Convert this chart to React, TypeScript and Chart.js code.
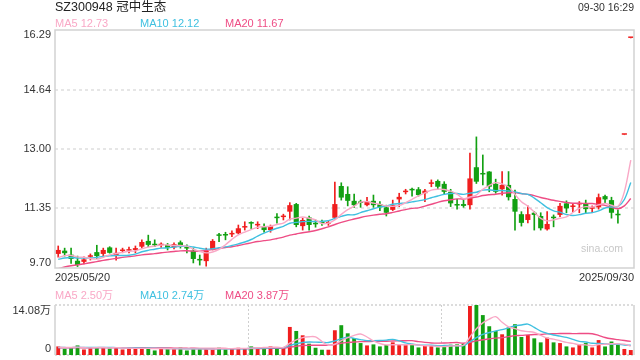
import { useEffect, useRef } from 'react';
import { Chart, registerables } from 'chart.js';
Chart.register(...registerables);

const title = 'SZ300948 冠中生态';
const timeText = '09-30 16:29';
const watermark = 'sina.com';

const dates = [
  '2025/05/20','2025/05/21','2025/05/22','2025/05/23','2025/05/26','2025/05/27','2025/05/28','2025/05/29','2025/05/30',
  '2025/06/03','2025/06/04','2025/06/05','2025/06/06','2025/06/09','2025/06/10','2025/06/11','2025/06/12','2025/06/13',
  '2025/06/16','2025/06/17','2025/06/18','2025/06/19','2025/06/20','2025/06/23','2025/06/24','2025/06/25','2025/06/26','2025/06/27','2025/06/30',
  '2025/07/01','2025/07/02','2025/07/03','2025/07/04','2025/07/07','2025/07/08','2025/07/09','2025/07/10','2025/07/11',
  '2025/07/14','2025/07/15','2025/07/16','2025/07/17','2025/07/18','2025/07/21','2025/07/22','2025/07/23','2025/07/24','2025/07/25',
  '2025/08/04','2025/08/05','2025/08/06','2025/08/07','2025/08/08','2025/08/11','2025/08/12','2025/08/13','2025/08/14','2025/08/15',
  '2025/08/18','2025/08/19','2025/08/20','2025/08/21','2025/08/22','2025/08/25','2025/08/26','2025/08/27','2025/08/28','2025/08/29',
  '2025/09/01','2025/09/02','2025/09/03','2025/09/04','2025/09/05','2025/09/08','2025/09/09','2025/09/10','2025/09/11','2025/09/12',
  '2025/09/15','2025/09/16','2025/09/17','2025/09/18','2025/09/19','2025/09/22','2025/09/23','2025/09/24','2025/09/25','2025/09/26',
  '2025/09/29','2025/09/30',
];

const opens = [
  10.09,10.18,10.07,9.90,9.87,10.01,10.14,10.09,10.27,10.03,
  10.17,10.18,10.20,10.29,10.45,10.35,10.33,10.34,10.27,10.41,
  10.26,10.18,9.93,9.89,10.22,10.63,10.64,10.63,10.66,10.82,
  10.95,10.88,10.86,10.75,11.10,11.11,11.26,11.47,10.86,11.10,
  10.93,10.96,10.93,11.09,11.97,11.75,11.56,11.52,11.44,11.56,
  11.47,11.38,11.31,11.60,11.80,11.87,11.88,11.77,12.03,12.11,
  12.03,11.81,11.45,11.47,11.44,12.49,12.31,12.37,12.03,11.88,
  12.00,11.61,11.19,11.03,11.23,11.14,10.77,11.10,11.17,11.49,
  11.39,11.46,11.49,11.34,11.38,11.69,11.58,11.18,13.39,16.07,
];
const highs = [
  10.31,10.25,10.25,10.03,10.01,10.09,10.33,10.25,10.29,10.25,
  10.25,10.28,10.31,10.48,10.61,10.48,10.40,10.38,10.40,10.45,
  10.34,10.25,10.06,10.25,10.49,10.66,10.69,10.73,10.89,10.98,
  10.98,10.98,10.92,10.89,11.21,11.19,11.51,11.49,11.08,11.14,
  11.03,11.03,11.00,12.08,12.06,11.95,11.75,11.58,11.66,11.72,
  11.54,11.44,11.58,11.77,11.88,11.91,11.93,11.88,12.14,12.14,
  12.09,11.88,11.60,11.58,12.88,13.33,12.83,12.37,12.16,12.37,
  12.37,11.86,11.26,11.42,11.26,11.23,11.26,11.17,11.49,11.56,
  11.49,11.54,11.58,11.42,11.75,11.72,11.66,11.31,13.39,16.07,
];
const lows = [
  10.00,10.03,9.83,9.74,9.81,9.92,9.96,10.00,10.11,9.92,
  10.12,10.12,10.12,10.25,10.29,10.29,10.27,10.20,10.23,10.25,
  10.12,9.84,9.78,9.75,10.20,10.43,10.48,10.57,10.64,10.75,
  10.79,10.79,10.69,10.69,10.94,11.03,11.03,10.84,10.75,10.75,
  10.83,10.88,10.88,11.05,11.58,11.42,11.38,11.38,11.42,11.38,
  11.29,11.14,11.29,11.40,11.75,11.69,11.69,11.54,11.95,11.88,
  11.75,11.40,11.33,11.38,11.33,12.04,12.00,11.81,11.77,11.72,
  11.58,10.75,10.86,10.95,10.75,10.75,10.75,10.84,11.12,11.23,
  11.26,11.23,11.23,11.23,11.33,11.51,11.08,10.94,13.39,16.07,
];
const closes = [
  10.20,10.11,9.95,9.78,9.94,10.03,10.03,10.20,10.12,10.12,
  10.19,10.19,10.25,10.42,10.34,10.33,10.35,10.25,10.36,10.32,
  10.24,9.95,9.91,10.17,10.45,10.59,10.60,10.65,10.80,10.84,
  10.93,10.90,10.75,10.86,11.08,11.13,11.44,10.89,11.03,10.89,
  10.91,10.94,10.95,11.47,11.65,11.56,11.44,11.50,11.54,11.44,
  11.38,11.23,11.44,11.67,11.82,11.85,11.72,11.84,12.05,11.95,
  11.81,11.49,11.43,11.42,12.18,12.09,12.29,11.95,11.81,12.00,
  11.66,11.26,10.95,11.19,11.17,10.80,10.92,11.08,11.42,11.35,
  11.41,11.48,11.33,11.36,11.66,11.60,11.23,11.16,13.39,16.07,
];
// closes before the first visible day (estimated from where the MA lines start)
const priorCloses = [9.20,9.25,9.30,9.35,9.40,9.45,9.50,9.55,9.60,9.62,9.75,9.82,9.90,9.95,10.03,9.85,9.92,9.98,10.00];

// volume in 万
const volumes = [
  2.42,1.76,2.04,2.70,1.56,2.04,2.04,2.22,2.04,2.04,
  1.56,1.85,1.85,2.04,2.04,1.28,1.76,1.76,1.76,2.04,
  1.28,1.76,1.76,1.76,1.85,2.04,1.56,1.76,2.04,1.94,
  2.42,2.04,2.04,2.42,2.04,2.22,7.90,6.77,5.55,3.18,
  2.04,1.48,1.48,6.97,8.39,6.11,4.78,3.36,2.70,2.99,
  2.42,2.79,3.56,2.79,2.79,2.79,2.13,2.60,2.50,2.13,
  2.50,2.90,2.99,3.18,13.80,14.08,11.24,8.10,6.77,5.83,
  7.73,8.67,5.07,5.64,4.69,3.56,4.88,3.56,3.36,2.42,
  2.13,3.00,3.36,2.13,4.20,2.40,3.80,3.20,1.70,1.40,
];
const priorVolumes = [2.1,1.9,2.0,2.2,1.8,2.0,1.9,2.1,2.0,1.8,2.0,2.2,1.9,2.1,2.0,2.2,2.0,2.3,2.1];

const priceTicks = [16.29, 14.64, 13.0, 11.35, 9.7];
const volTicks = [14.08, 0];
const maPeriods = [5, 10, 20];
const maLegendValues = [12.73, 12.12, 11.67];
const volLegendValues = [2.5, 2.74, 3.87];

const RED = '#f01e1e';
const GREEN = '#12a012';
const MA_COLORS = ['#f9a8c6', '#3fc0e0', '#ee4d85'];
const FONT = '"Liberation Sans", Arial, "Noto Sans CJK SC", sans-serif';

function movingAverage(values: number[], prior: number[], n: number) {
  const all = prior.concat(values);
  const off = prior.length;
  return values.map((_, i) => {
    const end = off + i + 1;
    const start = Math.max(0, end - n);
    let s = 0;
    for (let k = start; k < end; k++) s += all[k];
    return s / (end - start);
  });
}

const candleColors = closes.map((c, i) => {
  const o = opens[i];
  if (c > o) return RED;
  if (c < o) return GREEN;
  const prev = i > 0 ? closes[i - 1] : priorCloses[priorCloses.length - 1];
  return c >= prev ? RED : GREEN;
});

const legendXs = [55, 140, 225];

export default function App() {
  const refA = useRef<HTMLCanvasElement>(null);
  const refB = useRef<HTMLCanvasElement>(null);

  useEffect(() => {
    const bodies = opens.map((o, i) => [Math.min(o, closes[i]), Math.max(o, closes[i])]);
    const wicks = lows.map((l, i) => [l, highs[i]]);
    const priceMAs = maPeriods.map((p) => movingAverage(closes, priorCloses, p));
    const volMAs = maPeriods.map((p) => movingAverage(volumes, priorVolumes, p));

    const lineDs = (data: number[], color: string, i: number) => ({
      type: 'line' as const,
      label: 'MA' + maPeriods[i],
      data,
      borderColor: color,
      borderWidth: 1.4,
      pointRadius: 0,
      tension: 0.35,
      order: 0,
    });

    const gridA = {
      id: 'gridA',
      beforeDatasetsDraw(chart: any) {
        const { ctx, chartArea: a, scales } = chart;
        ctx.save();
        ctx.strokeStyle = '#e6e6e6';
        ctx.lineWidth = 2;
        ctx.setLineDash([3, 3]);
        priceTicks.slice(1, -1).forEach((t) => {
          const y = Math.round(scales.y.getPixelForValue(t));
          ctx.beginPath();
          ctx.moveTo(a.left, y);
          ctx.lineTo(a.right, y);
          ctx.stroke();
        });
        ctx.restore();
      },
      afterDatasetsDraw(chart: any) {
        const { ctx, chartArea: a } = chart;
        ctx.save();
        ctx.strokeStyle = '#d2d2d2';
        ctx.lineWidth = 1.5;
        ctx.strokeRect(a.left, a.top, a.right - a.left, a.bottom - a.top);
        ctx.restore();
      },
      afterDraw(chart: any) {
        const { ctx, chartArea: a, scales } = chart;
        ctx.save();
        ctx.textBaseline = 'middle';
        ctx.fillStyle = '#222';
        ctx.font = '12.5px ' + FONT;
        ctx.textAlign = 'left';
        ctx.fillText(title, 55, 8);
        ctx.font = '10.5px ' + FONT;
        ctx.textAlign = 'right';
        ctx.fillStyle = '#333';
        ctx.fillText(timeText, 634, 8);
        ctx.font = '11px ' + FONT;
        ctx.textAlign = 'left';
        maLegendValues.forEach((v, i) => {
          ctx.fillStyle = MA_COLORS[i];
          ctx.fillText('MA' + maPeriods[i] + ' ' + v.toFixed(2), legendXs[i], 23.5);
        });
        ctx.fillStyle = '#333';
        ctx.textAlign = 'right';
        priceTicks.forEach((t) => {
          let y = scales.y.getPixelForValue(t);
          y = Math.min(Math.max(y, a.top + 5), a.bottom - 5);
          ctx.fillText(t.toFixed(2), 51, y);
        });
        ctx.textAlign = 'left';
        ctx.fillText(dates[0], 55, 277.5);
        ctx.textAlign = 'right';
        ctx.fillText(dates[dates.length - 1], 634, 277.5);
        ctx.fillStyle = '#c8c8c8';
        ctx.font = '10.5px ' + FONT;
        ctx.fillText(watermark, 623, 249);
        ctx.restore();
      },
    };

    const chartA = new Chart(refA.current!, {
      type: 'bar',
      data: {
        labels: dates,
        datasets: [
          ...priceMAs.map((d, i) => lineDs(d, MA_COLORS[i], i)),
          {
            type: 'bar' as const,
            label: 'body',
            data: bodies as any,
            backgroundColor: candleColors,
            barPercentage: 0.8,
            categoryPercentage: 1,
            grouped: false,
            minBarLength: 1.5,
            order: 2,
          },
          {
            type: 'bar' as const,
            label: 'wick',
            data: wicks as any,
            backgroundColor: candleColors,
            barThickness: 1,
            grouped: false,
            order: 3,
          },
        ],
      } as any,
      options: {
        responsive: false,
        animation: false,
        devicePixelRatio: 1,
        events: [],
        layout: { padding: { left: 55, right: 6, top: 30, bottom: 22 } },
        plugins: { legend: { display: false }, tooltip: { enabled: false } },
        scales: {
          x: { type: 'category', display: false, offset: true },
          y: { type: 'linear', display: false, min: priceTicks[priceTicks.length - 1], max: priceTicks[0] },
        },
      } as any,
      plugins: [gridA],
    });

    const gridB = {
      id: 'gridB',
      beforeDatasetsDraw(chart: any) {
        const { ctx, chartArea: a } = chart;
        ctx.save();
        ctx.strokeStyle = '#dcdcdc';
        ctx.lineWidth = 2;
        ctx.setLineDash([2, 2]);
        [a.top, a.bottom].forEach((y) => {
          ctx.beginPath();
          ctx.moveTo(a.left, y);
          ctx.lineTo(a.right, y);
          ctx.stroke();
        });
        ctx.lineWidth = 1;
        ctx.strokeStyle = '#cfcfcf';
        const w = a.right - a.left;
        [1, 2].forEach((k) => {
          const x = Math.round(a.left + (w * k) / 3) + 0.5;
          ctx.beginPath();
          ctx.moveTo(x, a.top);
          ctx.lineTo(x, a.bottom);
          ctx.stroke();
        });
        ctx.restore();
      },
      afterDatasetsDraw(chart: any) {
        const { ctx, chartArea: a } = chart;
        ctx.save();
        ctx.strokeStyle = '#d2d2d2';
        ctx.lineWidth = 1.5;
        ctx.beginPath();
        ctx.moveTo(a.left, a.top);
        ctx.lineTo(a.left, a.bottom);
        ctx.moveTo(a.right, a.top);
        ctx.lineTo(a.right, a.bottom);
        ctx.stroke();
        ctx.restore();
      },
      afterDraw(chart: any) {
        const { ctx, chartArea: a, scales } = chart;
        ctx.save();
        ctx.textBaseline = 'middle';
        ctx.font = '11px ' + FONT;
        ctx.textAlign = 'left';
        volLegendValues.forEach((v, i) => {
          ctx.fillStyle = MA_COLORS[i];
          ctx.fillText('MA' + maPeriods[i] + ' ' + v.toFixed(2) + '万', legendXs[i], 5.5);
        });
        ctx.fillStyle = '#333';
        ctx.textAlign = 'right';
        volTicks.forEach((t) => {
          let y = scales.y.getPixelForValue(t);
          y = Math.min(Math.max(y, a.top + 6), a.bottom - 6.5);
          ctx.fillText(t === 0 ? '0' : t.toFixed(2) + '万', 51, y);
        });
        ctx.restore();
      },
    };

    const chartB = new Chart(refB.current!, {
      type: 'bar',
      data: {
        labels: dates,
        datasets: [
          ...volMAs.map((d, i) => lineDs(d, MA_COLORS[i], i)),
          {
            type: 'bar' as const,
            label: 'volume',
            data: volumes,
            backgroundColor: candleColors,
            barPercentage: 0.6,
            categoryPercentage: 1,
            grouped: false,
            order: 2,
          },
        ],
      } as any,
      options: {
        responsive: false,
        animation: false,
        devicePixelRatio: 1,
        events: [],
        layout: { padding: { left: 55, right: 6, top: 15, bottom: 5 } },
        plugins: { legend: { display: false }, tooltip: { enabled: false } },
        scales: {
          x: { type: 'category', display: false, offset: true },
          y: { type: 'linear', display: false, min: volTicks[1], max: volTicks[0] },
        },
      } as any,
      plugins: [gridB],
    });

    return () => {
      chartA.destroy();
      chartB.destroy();
    };
  }, []);

  return (
    <div style={{ position: 'fixed', left: 0, top: 0, width: 640, height: 360, background: '#fff' }}>
      <canvas ref={refA} width={640} height={290} style={{ position: 'absolute', left: 0, top: 0, width: 640, height: 290 }} />
      <canvas ref={refB} width={640} height={70} style={{ position: 'absolute', left: 0, top: 290, width: 640, height: 70 }} />
    </div>
  );
}
